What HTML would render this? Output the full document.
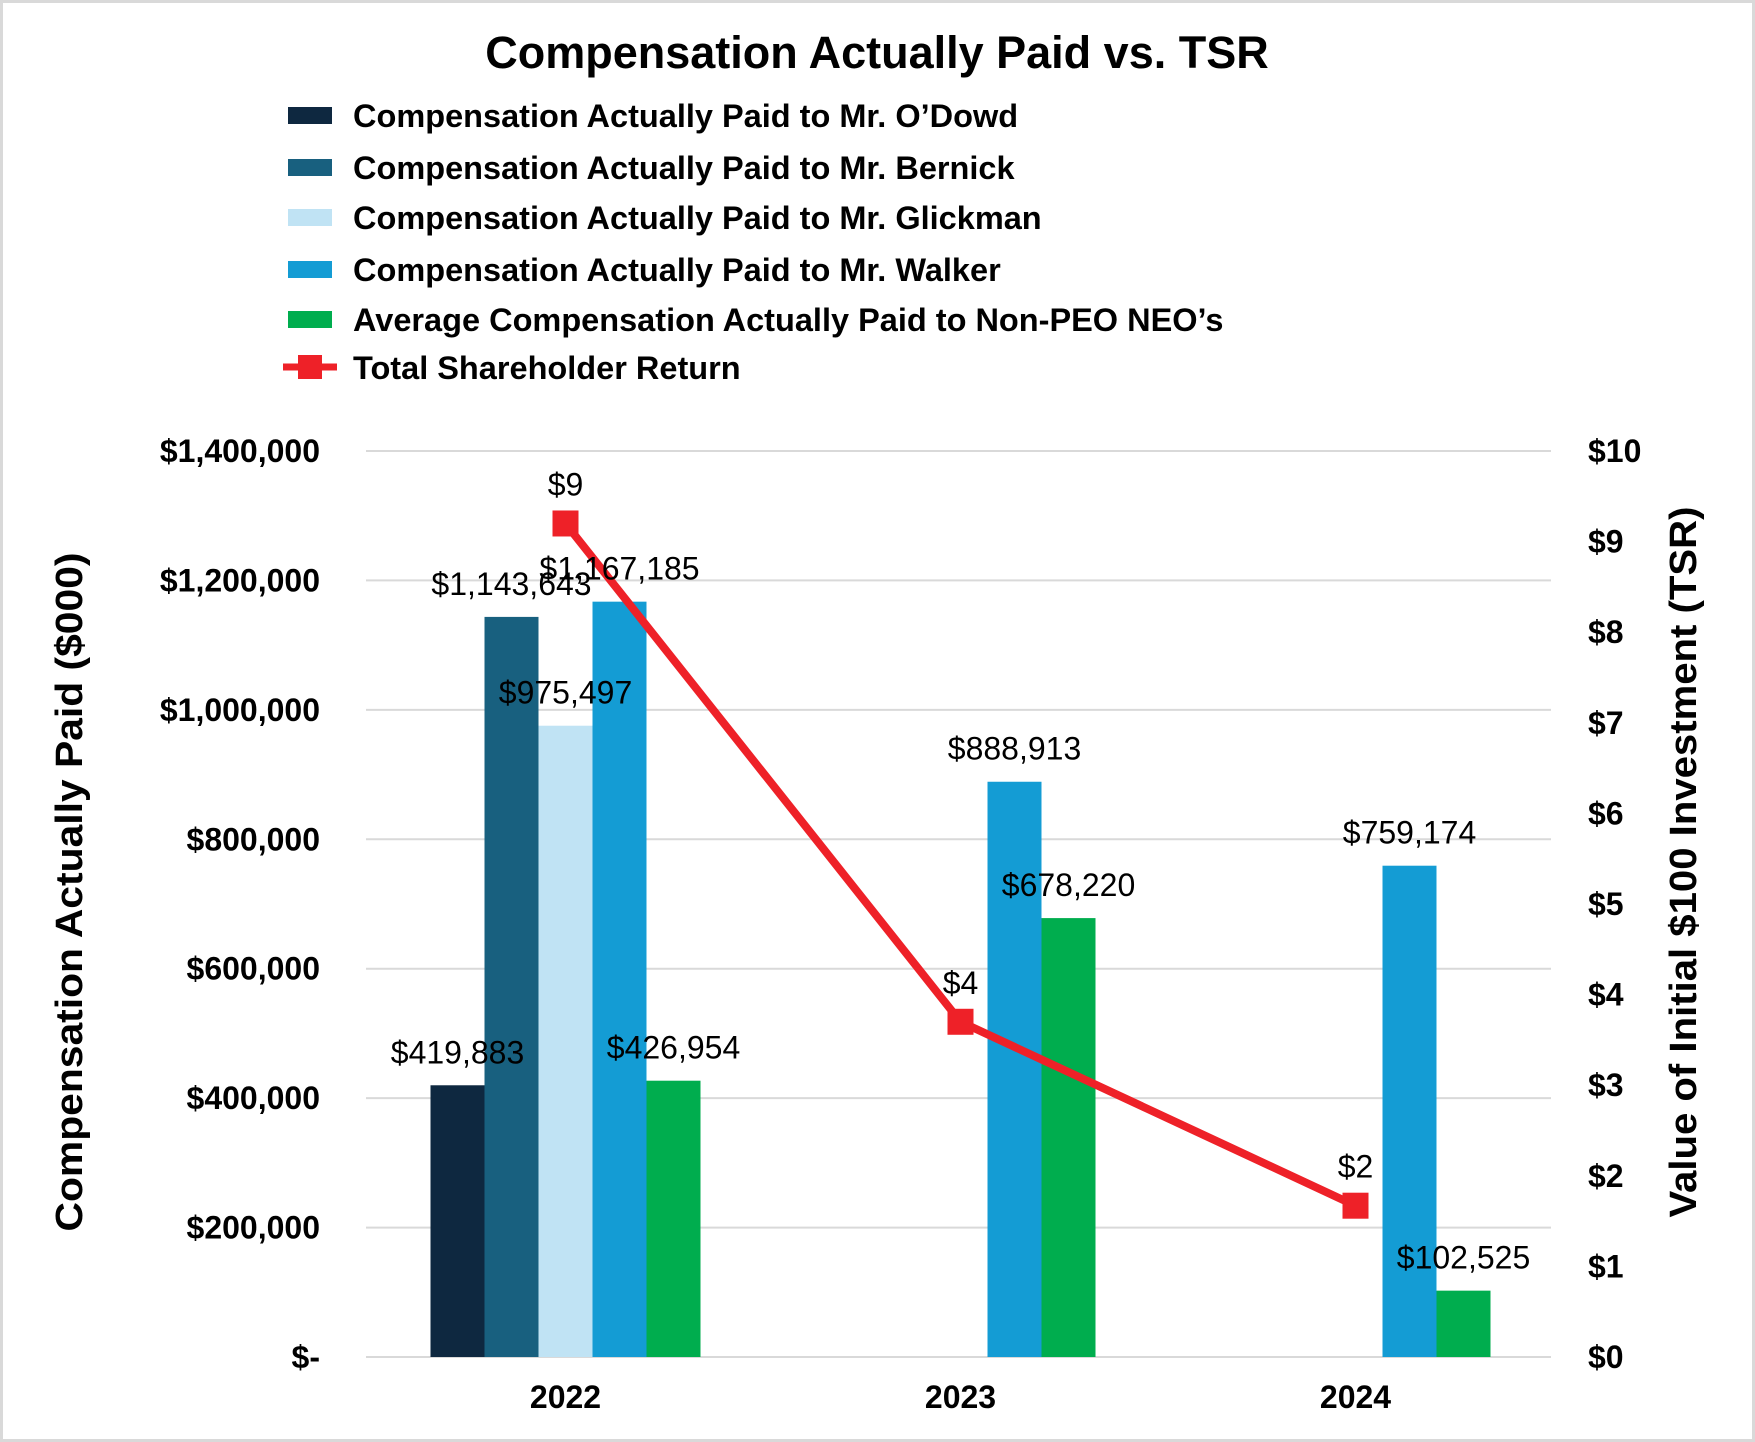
<!DOCTYPE html>
<html><head><meta charset="utf-8"><style>
html,body{margin:0;padding:0;background:#fff}
svg{display:block;font-family:"Liberation Sans",Arial,sans-serif}
</style></head><body>
<svg id="chart" width="1755" height="1442" viewBox="0 0 1755 1442">
<rect x="1.5" y="1.5" width="1752" height="1439" fill="#fff" stroke="#d9d9d9" stroke-width="3"/>
<text x="877" y="68" text-anchor="middle" font-size="45" font-weight="bold">Compensation Actually Paid vs. TSR</text>
<g id="legend"></g>
<g id="grid"></g>
<g id="bars"></g>
<g id="line"></g>
<g id="labels"></g>
<g id="axes"></g>
<text transform="translate(82,892) rotate(-90)" text-anchor="middle" font-size="38" font-weight="bold" textLength="679" lengthAdjust="spacingAndGlyphs">Compensation Actually Paid ($000)</text>
<text transform="translate(1696,862) rotate(-90)" text-anchor="middle" font-size="38" font-weight="bold" textLength="711" lengthAdjust="spacingAndGlyphs">Value of Initial $100 Investment (TSR)</text>
</svg>
<script>
const categories = ["2022","2023","2024"];
const seriesNames = ["Compensation Actually Paid to Mr. O’Dowd","Compensation Actually Paid to Mr. Bernick","Compensation Actually Paid to Mr. Glickman","Compensation Actually Paid to Mr. Walker","Average Compensation Actually Paid to Non-PEO NEO’s"];
const seriesColors = ["#0e2840","#18607f","#c0e3f4","#149cd4","#00ad4e"];
const odowd = [419883, null, null];
const bernick = [1143643, null, null];
const glickman = [975497, null, null];
const walker = [1167185, 888913, 759174];
const avgNeo = [426954, 678220, 102525];
const tsr = [9.2, 3.7, 1.67];
const tsrLabels = ["$9","$4","$2"];
const leftTicks = [0,200000,400000,600000,800000,1000000,1200000,1400000];
const leftTickLabels = ["$-","$200,000","$400,000","$600,000","$800,000","$1,000,000","$1,200,000","$1,400,000"];
const rightTicks = [0,1,2,3,4,5,6,7,8,9,10];

const NS="http://www.w3.org/2000/svg";
function mk(tag,attrs,parent,text){const e=document.createElementNS(NS,tag);for(const k in attrs)e.setAttribute(k,attrs[k]);if(text!==undefined)e.textContent=text;parent.appendChild(e);return e;}
const X0=366,X1=1551,Y0=1357,Y1=451;
const yL=v=>Y0-(v/1400000)*(Y0-Y1);
const yR=v=>Y0-(v/10)*(Y0-Y1);
const catW=(X1-X0)/categories.length;
const xC=i=>X0+catW*(i+0.5)+2;
const BW=54;
const fmt=v=>"$"+v.toLocaleString("en-US");

const grid=document.getElementById("grid"), axes=document.getElementById("axes");
leftTicks.forEach((t,i)=>{
  const g=mk("line",{x1:X0,x2:X1,y1:yL(t),y2:yL(t),stroke:"#d9d9d9","stroke-width":2},grid);
  
  
  const l=mk("text",{x:320,y:yL(t)+11,"text-anchor":"end","font-size":32,"font-weight":"bold"},axes,leftTickLabels[i]);
  
  
});
rightTicks.forEach(t=>{
  const l=mk("text",{x:1588,y:yR(t)+11,"font-size":32,"font-weight":"bold"},axes,"$"+t);
  
  
});
categories.forEach((c,i)=>{
  const l=mk("text",{x:xC(i),y:1408,"text-anchor":"middle","font-size":32,"font-weight":"bold"},axes,c);
  
  
});

const series=[odowd,bernick,glickman,walker,avgNeo];
const bars=document.getElementById("bars"), labels=document.getElementById("labels");
series.forEach((s,si)=>{
  s.forEach((v,ci)=>{
    if(v===null)return;
    const x=xC(ci)+(si-2.5)*BW;
    const b=mk("rect",{x:x,y:yL(v),width:BW,height:Y0-yL(v),fill:seriesColors[si]},bars);
    
    
    const t=mk("text",{x:x+BW/2,y:yL(v)-22,"text-anchor":"middle","font-size":32},labels,fmt(v));
    
    
  });
});

const line=document.getElementById("line");
const pts=tsr.map((v,i)=>xC(i)+","+yR(v)).join(" ");
const pl=mk("polyline",{points:pts,fill:"none",stroke:"#ee2128","stroke-width":8},line);


tsr.forEach((v,i)=>{
  const m=mk("rect",{x:xC(i)-13,y:yR(v)-13,width:26,height:26,fill:"#ee2128"},line);
  
  
  const t=mk("text",{x:xC(i),y:yR(v)-28,"text-anchor":"middle","font-size":32},labels,tsrLabels[i]);
  
  
});

const legend=document.getElementById("legend");
const legY=[115,167,217,269,319];
seriesNames.forEach((n,i)=>{
  const r=mk("rect",{x:288,y:legY[i]-8,width:44,height:17,fill:seriesColors[i]},legend);
  
  
  const t=mk("text",{x:353,y:legY[i]+12,"font-size":32.5,"font-weight":"bold"},legend,n);
  
  
});
const ll=mk("line",{x1:283,x2:337,y1:367,y2:367,stroke:"#ee2128","stroke-width":7},legend);


const lm=mk("rect",{x:298,y:355,width:24,height:24,fill:"#ee2128"},legend);


const lt=mk("text",{x:353,y:379,"font-size":32.5,"font-weight":"bold"},legend,"Total Shareholder Return");


</script>
</body></html>
